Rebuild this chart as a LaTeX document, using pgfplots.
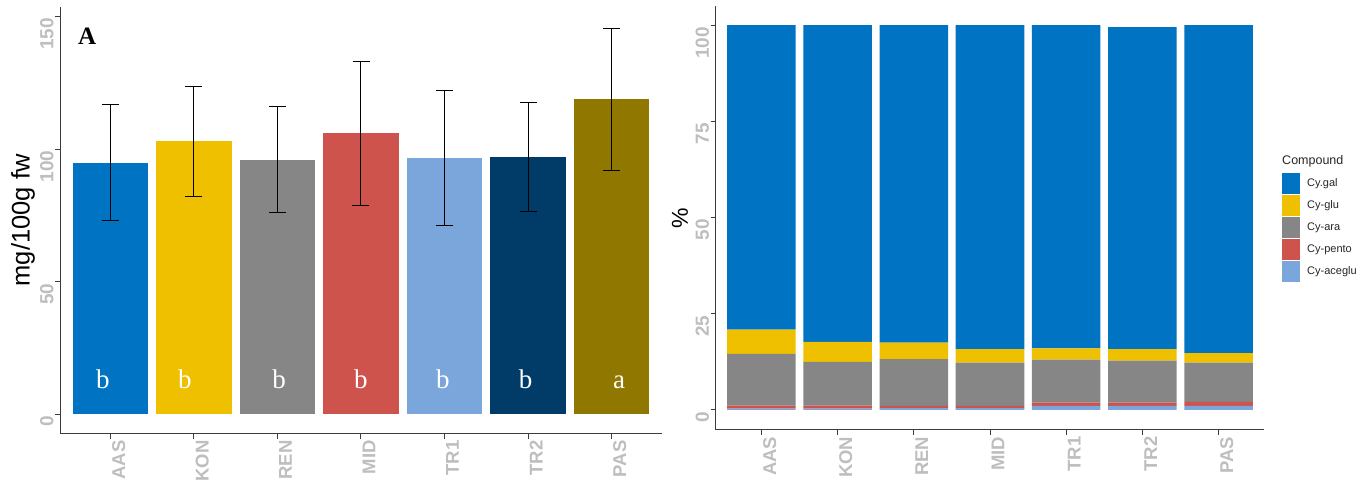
\documentclass[border=0pt]{standalone}
\usepackage{pgfplots}
\pgfplotsset{compat=1.18}
\usepackage{fontspec}
\setmainfont{Liberation Sans}
\newfontfamily\letterfont{Liberation Serif}

% JCO palette
\definecolor{jcoBlue}{HTML}{0073C2}
\definecolor{jcoYellow}{HTML}{EFC000}
\definecolor{jcoGray}{HTML}{868686}
\definecolor{jcoRed}{HTML}{CD534C}
\definecolor{jcoLightBlue}{HTML}{7AA6DC}
\definecolor{jcoNavy}{HTML}{003C67}
\definecolor{jcoOlive}{HTML}{8F7700}
\definecolor{axisgray}{HTML}{3C3C3C}
\definecolor{ticktext}{HTML}{BEBEBE}

\tikzset{grp/.style={text=white, font=\letterfont\fontsize{27}{27}\selectfont, anchor=base}}

\pgfplotsset{
  panel/.style={
    scale only axis, anchor=south west,
    axis x line*=bottom, axis y line*=left,
    axis line style={axisgray, line width=1pt, -},
    tick style={axisgray, line width=1pt},
    major tick length=5pt, tick align=outside,
    xmin=-0.6, xmax=6.6, enlarge x limits=false, enlarge y limits=false,
    xtick={0,...,6},
    xticklabels={AAS,KON,REN,MID,TR1,TR2,PAS},
    xticklabel style={rotate=90, anchor=north east, inner sep=1.5pt,
      font=\fontsize{18.5}{18.5}\selectfont\bfseries, text=ticktext},
    yticklabel style={rotate=90, anchor=south east, inner sep=1.5pt,
      font=\fontsize{19}{19}\selectfont\bfseries, text=ticktext},
    /pgf/number format/assume math mode=true,
  },
  errsty/.style={
    error bars/.cd, y dir=both, y explicit,
    error bar style={draw=black, line width=1pt},
    error mark options={rotate=90, draw=black, line width=1pt, mark size=8.5pt},
  },
  keyimg/.style={legend image code/.code={\fill[##1,draw=none] (0pt,-10.5pt) rectangle (18pt,10.5pt);}},
}

\begin{document}
\begin{tikzpicture}
\path[use as bounding box] (0,0) rectangle (1363pt,481pt);

% Panel A: total content with standard deviation
\begin{axis}[panel, at={(60.3pt,47.3pt)}, width=601.4pt, height=426.7pt,
  ymin=-7.3, ymax=153.6, ytick={0,50,100,150},
  ybar, bar width=0.9, bar shift=0pt,
  ylabel={mg/100g fw},
  ylabel style={at={(axis description cs:-0.0512,0.5)}, anchor=base,
    font=\fontsize{25.5}{25.5}\selectfont, text=black},
  clip=false]
\addplot[fill=jcoBlue, draw=none, errsty] coordinates {(0,94.95) +- (0,21.75)};
\addplot[fill=jcoYellow, draw=none, errsty] coordinates {(1,102.95) +- (0,20.75)};
\addplot[fill=jcoGray, draw=none, errsty] coordinates {(2,96.0) +- (0,20.0)};
\addplot[fill=jcoRed, draw=none, errsty] coordinates {(3,105.95) +- (0,27.05)};
\addplot[fill=jcoLightBlue, draw=none, errsty] coordinates {(4,96.75) +- (0,25.45)};
\addplot[fill=jcoNavy, draw=none, errsty] coordinates {(5,96.95) +- (0,20.55)};
\addplot[fill=jcoOlive, draw=none, errsty] coordinates {(6,118.85) +- (0,26.75)};

\node[font=\letterfont\bfseries\fontsize{25}{25}\selectfont, anchor=base] at (axis cs:-0.28,139.3) {A};
\node[grp] at (axis cs:-0.09,9.8) {b};
\node[grp] at (axis cs:0.89,9.8) {b};
\node[grp] at (axis cs:2.02,9.8) {b};
\node[grp] at (axis cs:3.0,9.8) {b};
\node[grp] at (axis cs:3.98,9.8) {b};
\node[grp] at (axis cs:4.97,9.8) {b};
\node[grp] at (axis cs:6.09,9.8) {a};
\end{axis}

% Panel B: relative composition of the anthocyanins
\begin{axis}[panel, at={(715.7pt,51pt)}, width=548.6pt, height=424pt,
  ymin=-5.2, ymax=105, ytick={0,25,50,75,100},
  ybar stacked, bar width=0.9, clip=false,
  ylabel={\%},
  ylabel style={at={(axis description cs:-0.0505,0.5)}, anchor=base,
    font=\fontsize{23}{23}\selectfont, text=black},
  reverse legend,
  legend style={at={(axis description cs:1.0323,0.606)}, anchor=north west,
    draw=none, fill=none, inner sep=0pt, row sep=1pt,
    nodes={inner sep=0pt, text=black!85},
    font=\fontsize{11}{11}\selectfont,
    /tikz/every odd column/.append style={column sep=7pt}},
  legend cell align=left]
\addplot[fill=jcoLightBlue, draw=none, keyimg] coordinates {(0,0.35) (1,0.35) (2,0.5) (3,0.5) (4,1.1) (5,1.1) (6,1.1)};
\addlegendentry{Cy-aceglu}
\addplot[fill=jcoRed, draw=none, keyimg] coordinates {(0,0.8) (1,0.8) (2,0.6) (3,0.6) (4,0.8) (5,0.8) (6,1.0)};
\addlegendentry{Cy-pento}
\addplot[fill=jcoGray, draw=none, keyimg] coordinates {(0,13.45) (1,11.35) (2,12.1) (3,11.2) (4,11.2) (5,10.9) (6,10.2)};
\addlegendentry{Cy-ara}
\addplot[fill=jcoYellow, draw=none, keyimg] coordinates {(0,6.3) (1,5.2) (2,4.3) (3,3.5) (4,2.9) (5,3.0) (6,2.5)};
\addlegendentry{Cy-glu}
\addplot[fill=jcoBlue, draw=none, keyimg] coordinates {(0,79.1) (1,82.3) (2,82.5) (3,84.2) (4,84.0) (5,83.7) (6,85.2)};
\addlegendentry{Cy.gal}

\node[anchor=west, inner sep=0pt, font=\fontsize{12.5}{12.5}\selectfont, text=black!85]
  at (axis description cs:1.0323,0.634) {Compound};
\end{axis}
\end{tikzpicture}
\end{document}
